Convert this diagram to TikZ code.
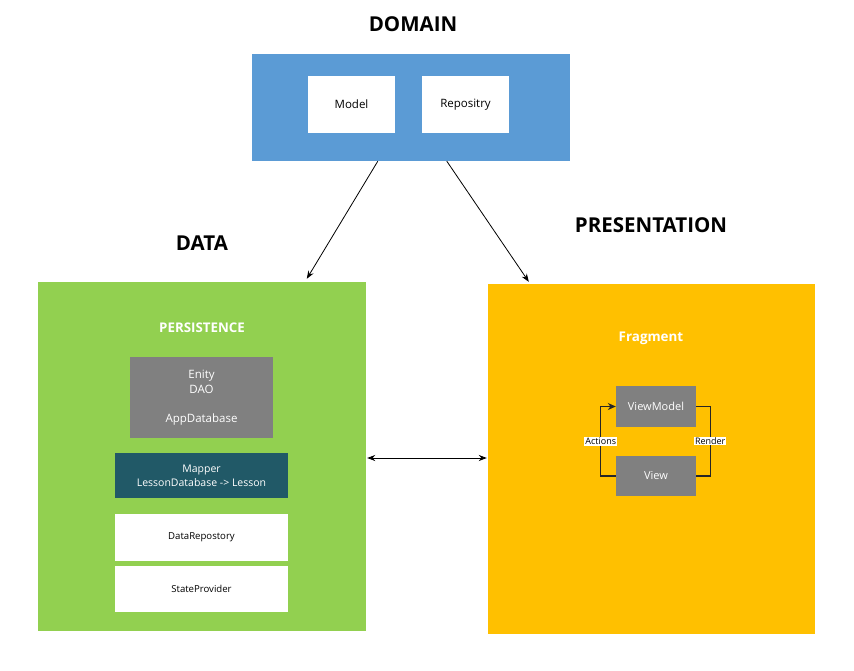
\documentclass[tikz,border=0pt]{standalone}
\usepackage{fontspec}
\setmainfont{Open Sans}
\usetikzlibrary{arrows.meta,calc}
\definecolor{domblue}{HTML}{5B9BD5}
\definecolor{datagreen}{HTML}{92D050}
\definecolor{presyellow}{HTML}{FFC000}
\definecolor{boxgray}{HTML}{808080}
\definecolor{mapteal}{HTML}{215967}
\tikzset{
  box/.style={draw=none, minimum width=#1, inner sep=0pt, align=center},
  title/.style={font=\fontsize{20.5}{24}\selectfont\bfseries, text=black},
  small/.style={font=\fontsize{11.5}{14.5}\selectfont},
  tip/.style={-{Stealth[length=8pt,width=6pt]}, line width=0.8pt},
  loopline/.style={line width=1.1pt, draw=black!85},
  lbl/.style={fill=white, inner sep=1pt, font=\fontsize{9}{11}\selectfont}
}
\begin{document}
\begin{tikzpicture}[x=1pt,y=-1pt]
\useasboundingbox (0,0) rectangle (854,671);
% titles
\node[title] (tdom) at (413,24) {DOMAIN};
\node[title] (tdata) at (202,243) {DATA};
\node[title] (tpres) at (651,225) {PRESENTATION};
% domain
\node[box=318pt, minimum height=107pt, fill=domblue] (dom) at (411,107.5) {};
\node[box=87pt, minimum height=57pt, fill=white, small] (model) at (351.5,104.5) {Model};
\node[box=87pt, minimum height=57pt, fill=white, small] (repo) at (465.5,104.5) {Repositry};
% data
\node[box=328pt, minimum height=349pt, fill=datagreen] (data) at (202,456.5) {};
\node[text=white, font=\fontsize{13.3}{15}\selectfont\bfseries] (pers) at (202,328) {PERSISTENCE};
\node[box=143pt, minimum height=81pt, fill=boxgray, text=white, small] (ent) at (201.5,397.5) {Enity\\DAO\\[14.5pt]AppDatabase};
\node[box=173pt, minimum height=45pt, fill=mapteal, text=white, small, font=\fontsize{10.5}{14}\selectfont] (map) at (201.5,475.5) {Mapper\\LessonDatabase -> Lesson};
\node[box=173pt, minimum height=47pt, fill=white, small, font=\fontsize{9.6}{12}\selectfont] (drep) at (201.5,537.5) {DataRepostory};
\node[box=173pt, minimum height=46pt, fill=white, small, font=\fontsize{9.6}{12}\selectfont] (sprov) at (201.5,589) {StateProvider};
% presentation
\node[box=327pt, minimum height=350pt, fill=presyellow] (pres) at (651.5,459) {};
\node[text=white, font=\fontsize{13.4}{15}\selectfont\bfseries] (frag) at (651,338) {Fragment};
\node[box=80pt, minimum height=41pt, fill=boxgray, text=white, small, font=\fontsize{11}{13}\selectfont] (vm) at (656,406.5) {ViewModel};
\node[box=80pt, minimum height=40pt, fill=boxgray, text=white, small, font=\fontsize{11}{13}\selectfont] (v) at (656,476) {View};
% loop
\draw[loopline] (vm.east) -- ++(14,0) coordinate (r1) |- (v.east);
\node[lbl] (render) at ($(r1)+(0,34.5)$) {Render};
\draw[loopline, -{Stealth[length=8pt,width=7pt]}] (v.west) -- ++(-15,0) coordinate (l1) |- (vm.west);
\node[lbl] (actions) at ($(l1)+(0,-34.5)$) {Actions};
% connectors
\draw[tip] ($(dom.south west)+(126,0)$) -- ($(data.north west)+(269,-3)$);
\draw[tip] ($(dom.south west)+(195,0)$) -- ($(pres.north west)+(41,-2)$);
\draw[{Stealth[length=8pt,width=6pt]}-{Stealth[length=8pt,width=6pt]}, line width=0.8pt] ($(data.east)+(1,1.5)$) -- ($(pres.west)+(-1,-1)$);
\end{tikzpicture}
\end{document}
